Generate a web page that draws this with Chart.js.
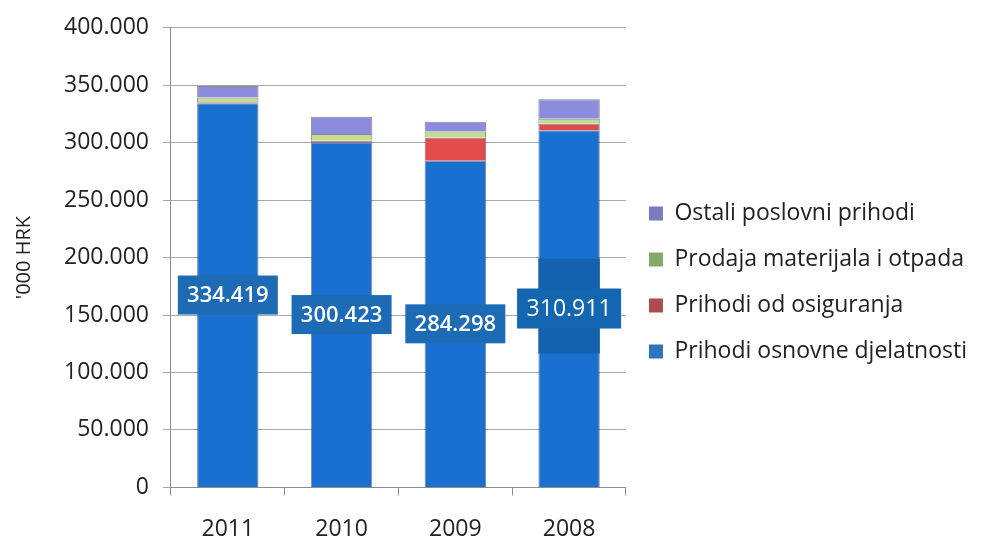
<!DOCTYPE html>
<html>
<head>
<meta charset="utf-8">
<script src="https://cdn.jsdelivr.net/npm/chart.js@4"></script>
<style>
    body { margin: 0; background: #fff; }
</style>
</head>
<body>
<canvas id="revenueChart" width="981" height="539"></canvas>
<script>
const years = ["2011", "2010", "2009", "2008"];
const osnovneDjelatnosti = [334419, 300423, 284298, 310911];
const osiguranja = [800, 1200, 20000, 5500];
const prodajaMaterijala = [4200, 6000, 5500, 4500];
const ostaliPrihodi = [10000, 15000, 8500, 17000];

const fontFamily = "'Open Sans', 'DejaVu Sans', sans-serif";

function formatThousands(value) {
    return value.toString().replace(/\B(?=(\d{3})+(?!\d))/g, '.');
}

// boxes with the blue segment value, sitting in the middle of the bar
const valueBoxes = {
    id: 'valueBoxes',
    afterDatasetsDraw(chart) {
        const ctx = chart.ctx;
        const meta = chart.getDatasetMeta(0);
        meta.data.forEach(function (bar, i) {
            const cy = (bar.y + bar.base) / 2;
            const last = i === meta.data.length - 1;
            ctx.save();
            if (last) {
                ctx.fillStyle = '#1462ad';
                ctx.fillRect(bar.x - bar.width / 2, cy - 50, bar.width, 95);
            }
            const w = last ? 104 : 100;
            const h = last ? 40 : 39;
            ctx.fillStyle = last ? '#1466b0' : '#1d6bb4';
            ctx.fillRect(bar.x - w / 2, cy - h / 2, w, h);
            ctx.fillStyle = '#ffffff';
            ctx.font = (last ? '23px ' : '600 22px ') + fontFamily;
            ctx.textAlign = 'center';
            ctx.textBaseline = 'middle';
            ctx.fillText(formatThousands(osnovneDjelatnosti[i]), bar.x, cy + 1);
            ctx.restore();
        });
    }
};

function drawChart() {
    new Chart(document.getElementById("revenueChart"), {
        type: "bar",
        data: {
            labels: years,
            datasets: [
                {
                    label: "Prihodi osnovne djelatnosti",
                    data: osnovneDjelatnosti,
                    backgroundColor: '#1a70ce',
                    legendColor: '#2e74b8'
                },
                {
                    label: "Prihodi od osiguranja",
                    data: osiguranja,
                    backgroundColor: '#e24a4c',
                    legendColor: '#b04a4e'
                },
                {
                    label: "Prodaja materijala i otpada",
                    data: prodajaMaterijala,
                    backgroundColor: '#c4dc92',
                    legendColor: '#86a868'
                },
                {
                    label: "Ostali poslovni prihodi",
                    data: ostaliPrihodi,
                    backgroundColor: '#8c8cdc',
                    legendColor: '#7b7bbf'
                }
            ]
        },
        options: {
            responsive: false,
            animation: false,
            layout: {
                padding: { top: 2, right: 4, bottom: -24, left: 12 }
            },
            datasets: {
                bar: {
                    categoryPercentage: 1,
                    barPercentage: 0.54,
                    borderColor: 'rgba(30,40,60,0.55)',
                    borderWidth: { top: 1, bottom: 0, left: 1, right: 1 }
                }
            },
            scales: {
                x: {
                    stacked: true,
                    border: { color: '#8c8c8c' },
                    grid: {
                        drawOnChartArea: false,
                        color: '#8c8c8c',
                        tickLength: 8
                    },
                    ticks: {
                        color: '#222222',
                        padding: 20,
                        font: { family: fontFamily, size: 23 }
                    }
                },
                y: {
                    stacked: true,
                    min: 0,
                    max: 400000,
                    border: { color: '#8c8c8c' },
                    grid: {
                        color: '#a8a8a8',
                        tickLength: 8
                    },
                    ticks: {
                        stepSize: 50000,
                        color: '#222222',
                        padding: 14,
                        font: { family: fontFamily, size: 23 },
                        callback: function (value) {
                            return formatThousands(value);
                        }
                    },
                    title: {
                        display: true,
                        text: "'000 HRK",
                        color: '#222222',
                        padding: { top: 0, bottom: 14 },
                        font: { family: fontFamily, size: 20 }
                    }
                }
            },
            plugins: {
                legend: {
                    position: 'right',
                    reverse: true,
                    maxWidth: 400,
                    labels: {
                        color: '#222222',
                        boxWidth: 14,
                        boxHeight: 14,
                        padding: 23,
                        font: { family: fontFamily, size: 23 },
                        generateLabels: function (chart) {
                            return chart.data.datasets.map(function (ds, i) {
                                return {
                                    text: ds.label,
                                    fillStyle: ds.legendColor,
                                    strokeStyle: ds.legendColor,
                                    fontColor: '#222222',
                                    lineWidth: 0,
                                    datasetIndex: i
                                };
                            });
                        }
                    }
                },
                tooltip: { enabled: false }
            }
        },
        plugins: [valueBoxes]
    });
}

document.fonts.load("20px 'Open Sans'").then(drawChart, drawChart);
</script>
</body>
</html>
